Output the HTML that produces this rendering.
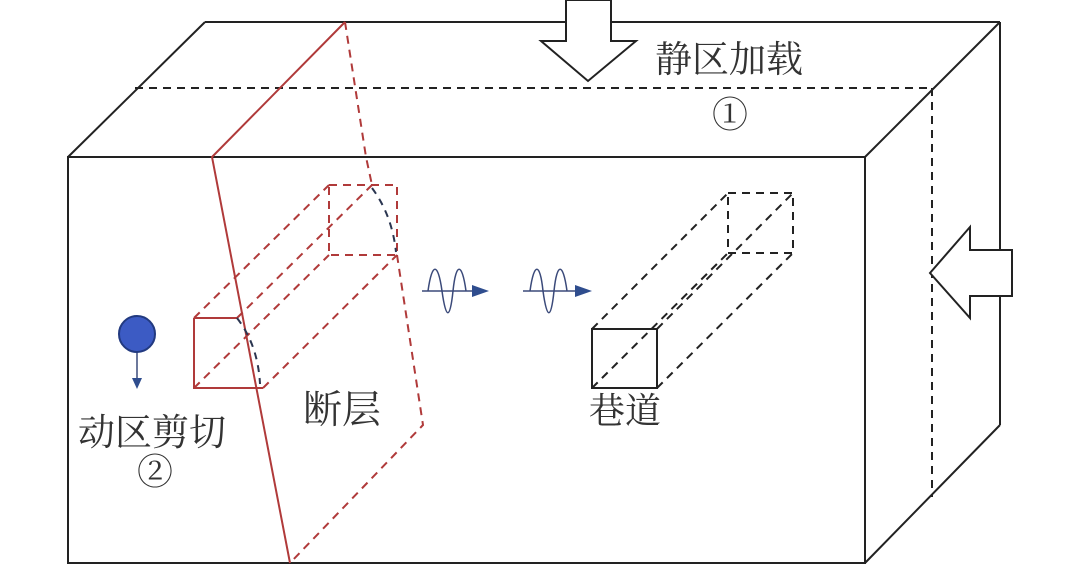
<!DOCTYPE html>
<html><head><meta charset="utf-8"><style>
html,body{margin:0;padding:0;background:#fff;}
svg{display:block;}
text{font-family:"Liberation Serif","Noto Serif CJK SC","Noto Sans CJK SC",serif;fill:#333;}
</style></head><body>
<svg width="1080" height="564" viewBox="0 0 1080 564" xmlns="http://www.w3.org/2000/svg">
<g fill="none" stroke="#222" stroke-width="2">
<rect x="68" y="157" width="797" height="406"/>
<line x1="68" y1="157" x2="205" y2="22"/>
<line x1="205" y1="22" x2="1000" y2="22"/>
<line x1="1000" y1="22" x2="1000" y2="425"/>
<line x1="865" y1="157" x2="1000" y2="22"/>
<line x1="865" y1="563" x2="1000" y2="425"/>
<g stroke-dasharray="8,6">
<line x1="135" y1="88" x2="932" y2="88"/>
<line x1="932" y1="88" x2="932" y2="497"/>
</g>
</g>
<polygon points="566,0 611,0 611,41 636,41 588,81 541,41 566,41" fill="#fff" stroke="#222" stroke-width="2"/>
<polygon points="930,273 970,227 970,250 1012,250 1012,296 970,296 970,318" fill="#fff" stroke="#222" stroke-width="2"/>
<g fill="none" stroke="#b03a3a" stroke-width="2">
<polyline points="345,22 212,157 290,563"/>
<polyline points="194,318 237,318"/>
<polyline points="194,318 194,388 263,388"/>
<g stroke-dasharray="8,6">
<polyline points="345,22 366,157 372,185"/>
<polyline points="397,255 423,425 290,563"/>
<rect x="329" y="185" width="68" height="70"/>
<line x1="194" y1="318" x2="329" y2="185"/>
<line x1="237" y1="318" x2="372" y2="185"/>
<line x1="194" y1="388" x2="329" y2="255"/>
<line x1="263" y1="388" x2="397" y2="255"/>
</g>
</g>
<g fill="none" stroke="#2a3550" stroke-width="2" stroke-dasharray="7,6">
<path d="M237,318 Q258,345 260,384"/>
<path d="M372,188 Q392,215 396,252"/>
</g>
<g fill="none" stroke="#222" stroke-width="2">
<rect x="592" y="329" width="65" height="59"/>
<g stroke-dasharray="8,6">
<rect x="728" y="193" width="65" height="60"/>
<line x1="592" y1="329" x2="728" y2="193"/>
<line x1="657" y1="329" x2="793" y2="193"/>
<line x1="592" y1="388" x2="728" y2="253"/>
<line x1="657" y1="388" x2="793" y2="253"/>
</g>
</g>
<g fill="none" stroke="#3b4a7a" stroke-width="1.5">
<line x1="422" y1="291" x2="475" y2="291"/>
<path d="M428,291 C432,262 438,262 442,291 C446,320 450,320 453,291 C456,262 462,262 466,291"/>
<line x1="523" y1="291" x2="577" y2="291"/>
<path d="M530,291 C534,262 540,262 543,291 C547,320 551,320 554,291 C557,262 563,262 567,291"/>
<line x1="137" y1="352" x2="137" y2="380"/>
</g>
<g fill="#2f4d8e">
<polygon points="472,285 489,291 472,297"/>
<polygon points="575,285 592,291 575,297"/>
<polygon points="132,378 137,389 142,378"/>
</g>
<circle cx="137" cy="334" r="18" fill="#3c5bc4" stroke="#223a80" stroke-width="2"/>
<text x="655" y="72" font-size="37">静区加载</text>
<text x="730" y="127" font-size="36" text-anchor="middle">①</text>
<text x="78" y="445" font-size="37">动区剪切</text>
<text x="155" y="484" font-size="36" text-anchor="middle">②</text>
<text x="303" y="423" font-size="39">断层</text>
<text x="589" y="423" font-size="36">巷道</text>
</svg>
</body></html>
